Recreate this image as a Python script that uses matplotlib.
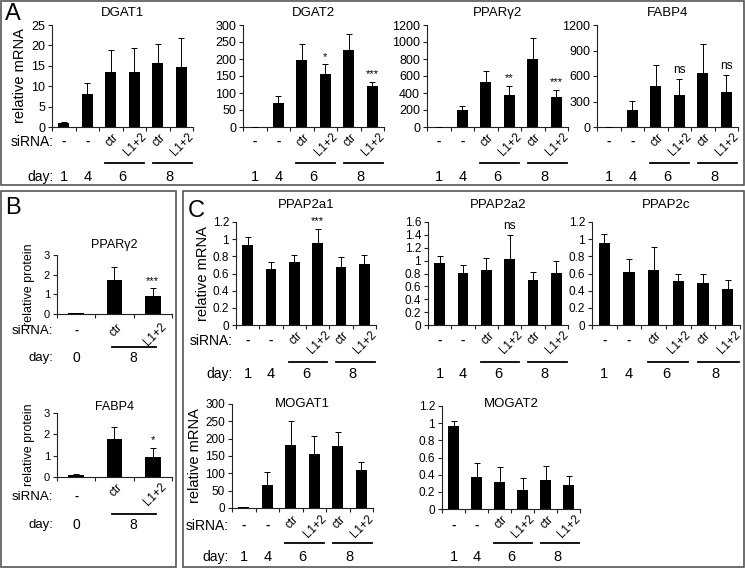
import numpy as np
import matplotlib
matplotlib.use('Agg')
import matplotlib.pyplot as plt
from matplotlib import transforms
from matplotlib.patches import Rectangle

plt.rcParams['font.family'] = ['Liberation Sans', 'DejaVu Sans']

W, H = 745, 568

# ---- data ----
sirna6 = ['-', '-', 'ctr', 'L1+2', 'ctr', 'L1+2']
days6 = ['1', '4', '6', '8']
sirna3 = ['-', 'ctr', 'L1+2']
days3 = ['0', '8']

dgat1_vals = [1.0, 8.2, 13.5, 13.6, 15.8, 14.8]
dgat1_errs = [0.15, 2.5, 5.4, 5.7, 4.6, 6.9]
dgat2_vals = [1, 70, 197, 155, 227, 121]
dgat2_errs = [0, 20, 46, 29, 46, 12]
pparg2_vals = [0, 200, 535, 380, 800, 355]
pparg2_errs = [0, 45, 125, 100, 245, 85]
fabp4_vals = [0, 200, 485, 375, 635, 410]
fabp4_errs = [0, 105, 240, 195, 340, 205]

b_pparg2_vals = [0.05, 1.75, 0.9]
b_pparg2_errs = [0.02, 0.65, 0.4]
b_fabp4_vals = [0.1, 1.8, 0.95]
b_fabp4_errs = [0.06, 0.55, 0.4]

ppap2a1_vals = [0.93, 0.65, 0.73, 0.96, 0.68, 0.71]
ppap2a1_errs = [0.10, 0.08, 0.09, 0.16, 0.11, 0.11]
ppap2a2_vals = [0.97, 0.81, 0.85, 1.02, 0.70, 0.81]
ppap2a2_errs = [0.10, 0.12, 0.19, 0.38, 0.13, 0.18]
ppap2c_vals = [0.95, 0.62, 0.64, 0.51, 0.49, 0.42]
ppap2c_errs = [0.11, 0.15, 0.27, 0.09, 0.11, 0.10]
mogat1_vals = [2, 65, 183, 157, 178, 110]
mogat1_errs = [0, 38, 67, 50, 40, 22]
mogat2_vals = [0.97, 0.37, 0.31, 0.22, 0.34, 0.28]
mogat2_errs = [0.06, 0.17, 0.18, 0.14, 0.16, 0.10]

fig = plt.figure(figsize=(W / 100, H / 100), dpi=100)


def fy(px):
    return 1 - px / H


def add_ax(x0, x1, ytop, ybot):
    return fig.add_axes([x0 / W, fy(ybot), (x1 - x0) / W, (ybot - ytop) / H])


def bar_panel(ax, vals, errs, ymax, ystep, title, title_y, tick_fs=9, title_fs=9.5,
              bw=0.45, stars=None, star_fs=8):
    n = len(vals)
    x = np.arange(n)
    ax.bar(x, vals, width=bw, color='black', zorder=2)
    ax.errorbar(x, vals, yerr=[np.zeros(n), errs], fmt='none', ecolor='black',
                elinewidth=0.7, capsize=2.5, capthick=0.7, zorder=3)
    ax.set_xlim(-0.5, n - 0.5)
    ax.set_ylim(0, ymax)
    yt = np.arange(0, ymax + ystep / 2, ystep)
    ax.set_yticks(yt)
    ax.set_yticklabels(['%g' % round(v, 2) for v in yt], fontsize=tick_fs)
    ax.set_xticks(np.arange(-0.5, n, 1))
    ax.set_xticklabels([])
    for s in ['top', 'right']:
        ax.spines[s].set_visible(False)
    for s in ['left', 'bottom']:
        ax.spines[s].set_linewidth(0.8)
        ax.spines[s].set_color('#222222')
    ax.tick_params(length=3, width=0.8, color='#222222', pad=2)
    ax.patch.set_alpha(0)
    trans = transforms.blended_transform_factory(ax.transAxes, fig.transFigure)
    fig.text(0.5, fy(title_y), title, transform=trans, ha='center', va='center',
             fontsize=title_fs)
    if stars:
        for i, s in stars.items():
            ax.annotate(s, xy=(i, vals[i] + errs[i]), xytext=(0, 2),
                        textcoords='offset points', ha='center', va='bottom',
                        fontsize=star_fs)
    return ax


def row_labels(ax, sirna, days, day_x, lines, y_dash, y_rot, y_line, y_day, fs=9.5,
               rot_fs=8.5, first_x=None):
    trans = transforms.blended_transform_factory(ax.transData, fig.transFigure)
    for i, s in enumerate(sirna):
        if s == '-':
            ax.text(i, fy(y_dash), '-', transform=trans, ha='center', va='center',
                    fontsize=fs, fontweight='bold')
        else:
            ax.text(i + 0.05, fy(y_rot), s, transform=trans, ha='center', va='top',
                    rotation=45, fontsize=rot_fs)
    for d, xd in zip(days, day_x):
        ax.text(xd, fy(y_day), d, transform=trans, ha='center', va='center', fontsize=fs + 1)
    for a, b in lines:
        ax.plot([a, b], [fy(y_line)] * 2, transform=trans, color='black', lw=1.3,
                clip_on=False)
    if first_x is not None:
        tf = fig.transFigure
        fig.text(first_x / W, fy(y_dash), 'siRNA:', transform=tf, ha='right',
                 va='center', fontsize=fs + 0.5)
        fig.text(first_x / W, fy(y_day), 'day:', transform=tf, ha='right',
                 va='center', fontsize=fs + 0.5)


lines6 = [(1.75, 3.4), (3.8, 5.45)]
dayx6 = [0, 1, 2.5, 4.5]

# ---- panel A ----
ax = add_ax(52, 193, 25, 127)
bar_panel(ax, dgat1_vals, dgat1_errs, 25, 5, 'DGAT1', 13)
row_labels(ax, sirna6, days6, dayx6, lines6, 142, 131, 163, 177, first_x=54)
ax.set_ylabel('relative mRNA', fontsize=10.5, labelpad=3)

ax = add_ax(243, 384, 25, 127)
bar_panel(ax, dgat2_vals, dgat2_errs, 300, 50, 'DGAT2', 13, stars={3: '*', 5: '***'})
row_labels(ax, sirna6, days6, dayx6, lines6, 142, 131, 163, 177)

ax = add_ax(427, 568, 25, 127)
bar_panel(ax, pparg2_vals, pparg2_errs, 1200, 200, 'PPAR\u03b32', 13,
          stars={3: '**', 5: '***'})
row_labels(ax, sirna6, days6, dayx6, lines6, 142, 131, 163, 177)

ax = add_ax(597, 738, 25, 127)
bar_panel(ax, fabp4_vals, fabp4_errs, 1200, 300, 'FABP4', 13, stars={3: 'ns', 5: 'ns'},
          star_fs=8.5)
row_labels(ax, sirna6, days6, dayx6, lines6, 142, 131, 163, 177)

# ---- panel B ----
lines3 = [(0.93, 2.07)]
dayx3 = [0, 1.5]
ax = add_ax(57, 172, 255, 314)
bar_panel(ax, b_pparg2_vals, b_pparg2_errs, 3, 1, 'PPAR\u03b32', 245, tick_fs=8,
          title_fs=9, bw=0.4, stars={2: '***'})
row_labels(ax, sirna3, days3, dayx3, lines3, 331, 321, 347, 358, fs=9, first_x=53)
ax.set_ylabel('relative protein', fontsize=9, labelpad=6)

ax = add_ax(57, 172, 413, 477)
bar_panel(ax, b_fabp4_vals, b_fabp4_errs, 3, 1, 'FABP4', 407, tick_fs=8,
          title_fs=9, bw=0.4, stars={2: '*'})
row_labels(ax, sirna3, days3, dayx3, lines3, 497, 481, 514, 525, fs=9, first_x=53)
ax.set_ylabel('relative protein', fontsize=9, labelpad=6)

# ---- panel C ----
ax = add_ax(236, 376, 222, 325)
bar_panel(ax, ppap2a1_vals, ppap2a1_errs, 1.2, 0.2, 'PPAP2a1', 205, tick_fs=8.5,
          stars={3: '***'})
row_labels(ax, sirna6, days6, dayx6, lines6, 341, 329, 362, 374, first_x=233)
ax.set_ylabel('relative mRNA', fontsize=10.5, labelpad=2)

ax = add_ax(428, 568, 222, 325)
bar_panel(ax, ppap2a2_vals, ppap2a2_errs, 1.6, 0.2, 'PPAP2a2', 205, tick_fs=8.5,
          stars={3: 'ns'}, star_fs=8.5)
row_labels(ax, sirna6, days6, dayx6, lines6, 341, 329, 362, 374)

ax = add_ax(592, 740, 222, 325)
bar_panel(ax, ppap2c_vals, ppap2c_errs, 1.2, 0.2, 'PPAP2c', 205, tick_fs=8.5)
row_labels(ax, sirna6, days6, dayx6, lines6, 341, 329, 362, 374)

ax = add_ax(232, 373, 404, 508)
bar_panel(ax, mogat1_vals, mogat1_errs, 300, 50, 'MOGAT1', 404, tick_fs=8.5)
row_labels(ax, sirna6, days6, dayx6, lines6, 526, 513, 543, 557, first_x=229)
ax.set_ylabel('relative mRNA', fontsize=10.5, labelpad=2)

ax = add_ax(442, 580, 406, 509)
bar_panel(ax, mogat2_vals, mogat2_errs, 1.2, 0.2, 'MOGAT2', 404, tick_fs=8.5)
row_labels(ax, sirna6, days6, dayx6, lines6, 526, 513, 543, 557)

# ---- panel frames and letters ----
for x0, y0, x1, y1 in [(1, 1, 744, 185), (1, 191, 176, 567), (183, 191, 744, 567)]:
    fig.add_artist(Rectangle((x0 / W, fy(y1)), (x1 - x0) / W, (y1 - y0) / H,
                             transform=fig.transFigure, fill=False,
                             edgecolor='#555555', lw=1.2))
for lab, x, y in [('A', 5, 14), ('B', 5, 208), ('C', 188, 211)]:
    fig.text(x / W, fy(y), lab, fontsize=17, ha='left', va='center')

fig.savefig('out.png', dpi=100)
